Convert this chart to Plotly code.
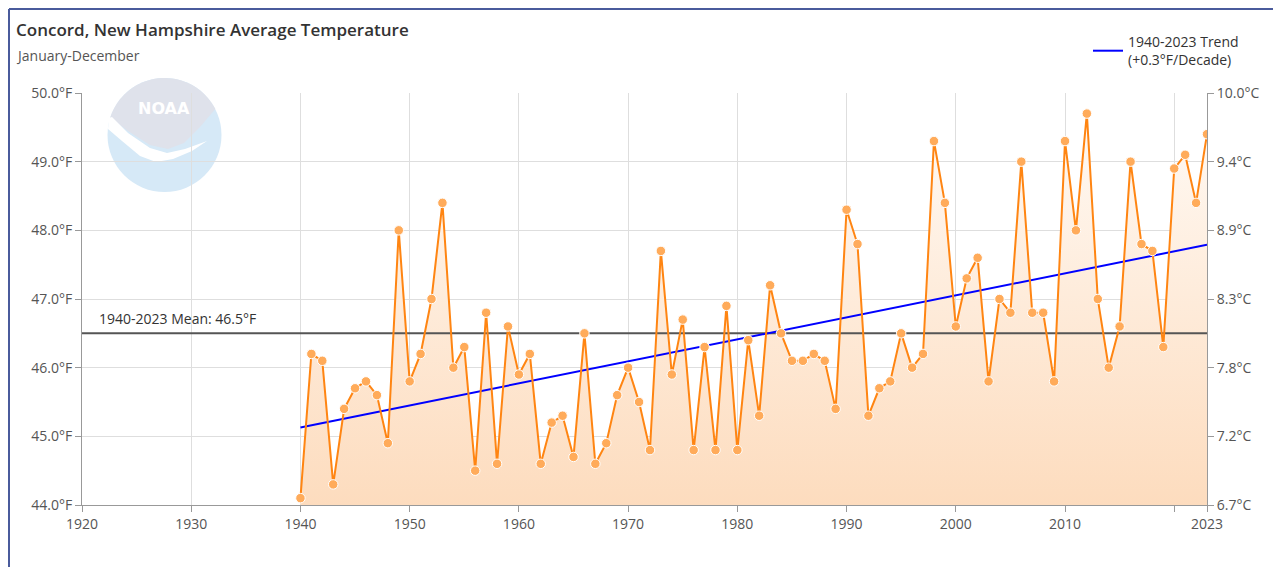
import numpy as np
import plotly.graph_objects as go

# ---------------- data ----------------
years = list(range(1940, 2024))
temps_f = [44.1, 46.2, 46.1, 44.3, 45.4, 45.7, 45.8, 45.6, 44.9, 48.0,
           45.8, 46.2, 47.0, 48.4, 46.0, 46.3, 44.5, 46.8, 44.6, 46.6,
           45.9, 46.2, 44.6, 45.2, 45.3, 44.7, 46.5, 44.6, 44.9, 45.6,
           46.0, 45.5, 44.8, 47.7, 45.9, 46.7, 44.8, 46.3, 44.8, 46.9,
           44.8, 46.4, 45.3, 47.2, 46.5, 46.1, 46.1, 46.2, 46.1, 45.4,
           48.3, 47.8, 45.3, 45.7, 45.8, 46.5, 46.0, 46.2, 49.3, 48.4,
           46.6, 47.3, 47.6, 45.8, 47.0, 46.8, 49.0, 46.8, 46.8, 45.8,
           49.3, 48.0, 49.7, 47.0, 46.0, 46.6, 49.0, 47.8, 47.7, 46.3,
           48.9, 49.1, 48.4, 49.4]
trend_years = [1940, 2023]
trend_values = [45.13, 47.79]
mean_years = [1920, 2023]
mean_value = 46.5
x_tickvals = [1920, 1930, 1940, 1950, 1960, 1970, 1980, 1990, 2000, 2010, 2020, 2023]
x_ticktext = ["1920", "1930", "1940", "1950", "1960", "1970", "1980", "1990", "2000", "2010", "", "2023"]
f_ticks = [44, 45, 46, 47, 48, 49, 50]

title = "Concord, New Hampshire Average Temperature"
subtitle = "January-December"
trend_name = "1940-2023 Trend<br>(+0.3°F/Decade)"
mean_label = "1940-2023 Mean: 46.5°F"

# ---------------- layout geometry ----------------
# page body has an 8px margin, so figure pixel = page pixel - 8
O = 8
W, H = 1281 - 2 * O, 575 - 2 * O
L, R, T, B = 82 - O, 1207 - O, 93 - O, 505 - O
FONT = "Open Sans"


def px(x):
    """page x pixel -> paper x"""
    return (x - O - L) / (R - L)


def py(y):
    """page y pixel -> paper y"""
    return (B - (y - O)) / (B - T)


def to_c(f):
    return (f - 32) / 1.8


fig = go.Figure()

# area fill
fig.add_trace(go.Scatter(
    x=years, y=temps_f, mode="none", fill="tozeroy",
    fillgradient=dict(type="vertical", start=44, stop=50,
                      colorscale=[[0, "rgb(253,220,190)"], [1, "rgb(255,251,247)"]]),
    showlegend=False, hoverinfo="skip"))

# mean line
fig.add_trace(go.Scatter(
    x=mean_years, y=[mean_value, mean_value], mode="lines",
    line=dict(color="#555555", width=2), showlegend=False, hoverinfo="skip"))

# trend line
fig.add_trace(go.Scatter(
    x=trend_years, y=trend_values, mode="lines", name=trend_name,
    line=dict(color="#0000ff", width=2), showlegend=True))

# series line + markers
fig.add_trace(go.Scatter(
    x=years, y=temps_f, mode="lines+markers",
    line=dict(color="#ff8512", width=2),
    marker=dict(size=9.5, color="#ffab5a", line=dict(color="white", width=1)),
    showlegend=False))

# invisible trace to anchor Celsius axis
fig.add_trace(go.Scatter(
    x=trend_years, y=[to_c(44), to_c(50)], yaxis="y2", mode="lines",
    line=dict(width=0), opacity=0, showlegend=False, hoverinfo="skip"))

# ---------------- NOAA watermark ----------------
shapes = []
cx, cy, r = 164.5, 135, 57
shapes.append(dict(type="circle", xref="paper", yref="paper", layer="below",
                   x0=px(cx - r), x1=px(cx + r), y0=py(cy + r), y1=py(cy - r),
                   fillcolor="#d6e9f7", line=dict(width=0)))
ang = np.linspace(np.radians(162), np.radians(27), 40)
arc = [(cx + r * np.cos(a), cy - r * np.sin(a)) for a in ang]
bowl = [(200, 127), (184, 143), (168, 149), (150, 145), (128, 131)]
pts = arc + bowl
path = "M " + " L ".join(f"{px(a):.5f},{py(b):.5f}" for a, b in pts) + " Z"
shapes.append(dict(type="path", xref="paper", yref="paper", layer="below",
                   path=path, fillcolor="#dfe2eb", line=dict(width=0)))
wing = [(109, 118), (112, 117), (128, 133), (150, 148), (167, 153), (185, 149),
        (207, 141), (192, 151), (173, 159), (156, 162), (140, 156), (122, 141), (108, 129)]
path = "M " + " L ".join(f"{px(a):.5f},{py(b):.5f}" for a, b in wing) + " Z"
shapes.append(dict(type="path", xref="paper", yref="paper", layer="below",
                   path=path, fillcolor="#ffffff", line=dict(width=0)))

# page frame lines
shapes.append(dict(type="line", xref="paper", yref="paper",
                   x0=px(9), x1=px(1290), y0=py(9), y1=py(9),
                   line=dict(color="#4a5b9c", width=2)))
shapes.append(dict(type="line", xref="paper", yref="paper",
                   x0=px(9), x1=px(9), y0=py(9), y1=py(580),
                   line=dict(color="#4a5b9c", width=2)))

annotations = [
    dict(text="NOAA", xref="paper", yref="paper", x=px(164), y=py(108),
         showarrow=False, xanchor="center", yanchor="middle",
         font=dict(family="DejaVu Sans", size=16, color="white", weight="bold")),
    dict(text=subtitle, xref="paper", yref="paper", x=px(14), y=py(55),
         showarrow=False, xanchor="left", yanchor="middle",
         font=dict(family=FONT, size=14, color="#555555")),
    dict(text=mean_label, xref="x", yref="y", x=1921.4, y=mean_value,
         showarrow=False, xanchor="left", yanchor="bottom", yshift=3,
         font=dict(family=FONT, size=14, color="#333333")),
]

fig.update_layout(
    width=W, height=H,
    margin=dict(l=L, r=W - R, t=T, b=H - B),
    paper_bgcolor="white", plot_bgcolor="white",
    font=dict(family=FONT, size=14, color="#555555"),
    title=dict(text=title, x=(16 - O) / W, xanchor="left", xref="container",
               y=1 - (30 - O) / H, yanchor="middle", yref="container",
               font=dict(family=FONT, size=17, color="#333333", weight=600)),
    shapes=shapes,
    annotations=annotations,
    showlegend=True,
    legend=dict(x=px(1088), xanchor="left", y=py(51), yanchor="middle",
                bgcolor="rgba(0,0,0,0)", font=dict(family=FONT, size=14, color="#333333"),
                itemwidth=30),
    xaxis=dict(range=[1920, 2023], tickvals=x_tickvals, ticktext=x_ticktext,
               showline=True, linecolor="#999999", linewidth=1,
               ticks="outside", ticklen=6, tickcolor="#999999",
               showgrid=True, gridcolor="#dedede", gridwidth=1, zeroline=False,
               tickfont=dict(family=FONT, size=14, color="#555555")),
    yaxis=dict(range=[44, 50], tickvals=f_ticks,
               ticktext=[f"{v:.1f}°F" for v in f_ticks],
               showline=True, linecolor="#999999", linewidth=1,
               ticks="outside", ticklen=6, tickcolor="#999999",
               showgrid=True, gridcolor="#dedede", gridwidth=1, zeroline=False,
               tickfont=dict(family=FONT, size=14, color="#555555")),
    yaxis2=dict(range=[to_c(44), to_c(50)], overlaying="y", side="right",
                tickvals=[to_c(v) for v in f_ticks],
                ticktext=[f"{to_c(v):.1f}°C" for v in f_ticks],
                showline=True, linecolor="#999999", linewidth=1,
                ticks="outside", ticklen=6, tickcolor="#999999",
                showgrid=False, zeroline=False,
                tickfont=dict(family=FONT, size=14, color="#555555")),
)

fig.write_html("out.html")
